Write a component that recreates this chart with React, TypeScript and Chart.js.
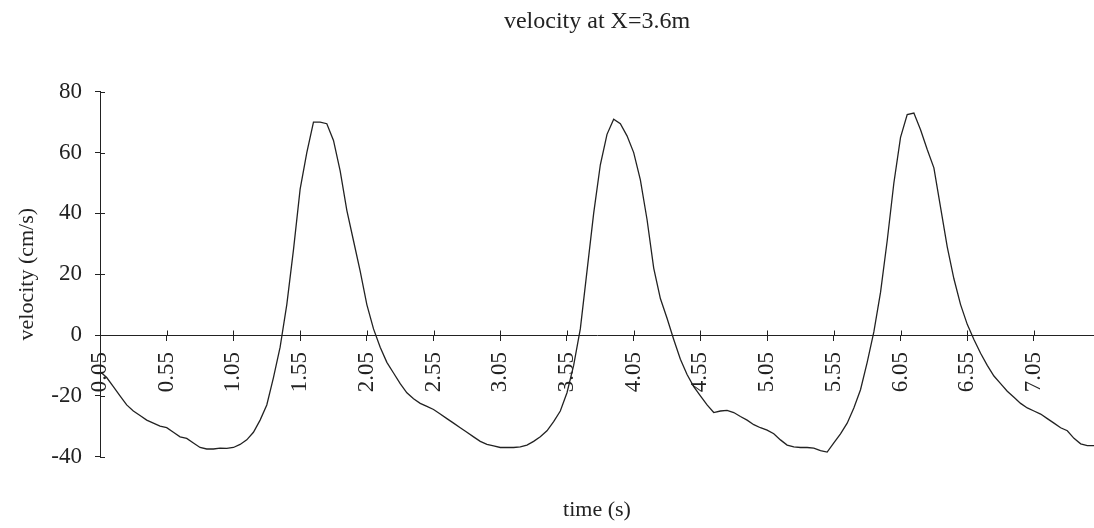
import React, { useEffect, useRef } from 'react';
import { Chart, registerables } from 'chart.js';

Chart.register(...registerables);

const TITLE = 'velocity at X=3.6m';
const X_TITLE = 'time (s)';
const Y_TITLE = 'velocity (cm/s)';

const TIME_LABELS = [
  '0.05', '0.10', '0.15', '0.20', '0.25', '0.30', '0.35', '0.40', '0.45', '0.50',
  '0.55', '0.60', '0.65', '0.70', '0.75', '0.80', '0.85', '0.90', '0.95', '1.00',
  '1.05', '1.10', '1.15', '1.20', '1.25', '1.30', '1.35', '1.40', '1.45', '1.50',
  '1.55', '1.60', '1.65', '1.70', '1.75', '1.80', '1.85', '1.90', '1.95', '2.00',
  '2.05', '2.10', '2.15', '2.20', '2.25', '2.30', '2.35', '2.40', '2.45', '2.50',
  '2.55', '2.60', '2.65', '2.70', '2.75', '2.80', '2.85', '2.90', '2.95', '3.00',
  '3.05', '3.10', '3.15', '3.20', '3.25', '3.30', '3.35', '3.40', '3.45', '3.50',
  '3.55', '3.60', '3.65', '3.70', '3.75', '3.80', '3.85', '3.90', '3.95', '4.00',
  '4.05', '4.10', '4.15', '4.20', '4.25', '4.30', '4.35', '4.40', '4.45', '4.50',
  '4.55', '4.60', '4.65', '4.70', '4.75', '4.80', '4.85', '4.90', '4.95', '5.00',
  '5.05', '5.10', '5.15', '5.20', '5.25', '5.30', '5.35', '5.40', '5.45', '5.50',
  '5.55', '5.60', '5.65', '5.70', '5.75', '5.80', '5.85', '5.90', '5.95', '6.00',
  '6.05', '6.10', '6.15', '6.20', '6.25', '6.30', '6.35', '6.40', '6.45', '6.50',
  '6.55', '6.60', '6.65', '6.70', '6.75', '6.80', '6.85', '6.90', '6.95', '7.00',
  '7.05', '7.10', '7.15', '7.20', '7.25', '7.30', '7.35', '7.40', '7.45', '7.50',
];

const VELOCITY = [
  -12, -14, -17, -20, -23, -25, -26.5, -28, -29, -30,
  -30.5, -32, -33.5, -34, -35.5, -37, -37.5, -37.5, -37.2, -37.3,
  -37, -36, -34.5, -32, -28, -23, -14, -4, 10, 28,
  48, 60, 70, 70, 69.5, 64, 54, 41, 31, 21,
  10, 2, -4, -9, -12.5, -16, -19, -21, -22.5, -23.5,
  -24.5, -26, -27.5, -29, -30.5, -32, -33.5, -35, -36, -36.5,
  -37, -37, -37, -36.8, -36.2, -35, -33.5, -31.5, -28.5, -25,
  -19, -10, 2, 21, 40, 56, 66, 71, 69.5, 65.5,
  60, 51, 38, 22, 12, 5.5, -1.5, -8, -13, -17,
  -20, -23, -25.5, -25, -24.8, -25.5, -26.8, -28, -29.5, -30.5,
  -31.3, -32.5, -34.5, -36.2, -36.8, -37, -37, -37.2, -38, -38.5,
  -35.5, -32.5, -29, -24, -18, -9, 1, 14, 31, 50,
  65, 72.5, 73, 67.5, 61, 55, 42, 29, 18.5, 10,
  3.5, -1.5, -6, -10, -13.5, -16, -18.5, -20.5, -22.5, -24,
  -25, -26, -27.5, -29, -30.5, -31.5, -34, -35.8, -36.4, -36.4,
];

const Y_MIN = -40;
const Y_MAX = 80;
const Y_STEP = 20;
const X_LABEL_EVERY = 10;

const FONT = 'Liberation Serif, Times New Roman, serif';
const INK = '#222';

const crossTicks = {
  id: 'crossTicks',
  afterDraw(chart: any) {
    const { ctx } = chart;
    const xs = chart.scales.x;
    const ys = chart.scales.y;
    const y0 = Math.round(ys.getPixelForValue(0)) + 0.5;
    ctx.save();
    ctx.strokeStyle = INK;
    ctx.lineWidth = 1;
    ctx.beginPath();
    xs.ticks.forEach((_: any, i: number) => {
      const px = Math.round(xs.getPixelForTick(i)) + 0.5;
      ctx.moveTo(px, y0 - 5);
      ctx.lineTo(px, y0);
    });
    ys.ticks.forEach((_: any, i: number) => {
      const py = Math.round(ys.getPixelForTick(i)) + 0.5;
      ctx.moveTo(ys.right, py);
      ctx.lineTo(ys.right + 5, py);
    });
    ctx.stroke();
    ctx.restore();
  },
};

export default function App() {
  const ref = useRef<HTMLCanvasElement | null>(null);

  useEffect(() => {
    if (!ref.current) return;
    const chart = new Chart(ref.current, {
      type: 'line',
      data: {
        labels: TIME_LABELS,
        datasets: [
          {
            data: VELOCITY,
            borderColor: INK,
            borderWidth: 1.3,
            pointRadius: 0,
            tension: 0,
            fill: false,
          },
        ],
      },
      options: {
        animation: false,
        responsive: false,
        devicePixelRatio: 1,
        layout: { padding: 0 },
        plugins: {
          legend: { display: false },
          tooltip: { enabled: false },
          title: {
            display: true,
            text: TITLE,
            fullSize: false,
            color: INK,
            font: { family: FONT, size: 24, weight: 'normal' },
            padding: { top: 7, bottom: 56 },
          },
          subtitle: {
            display: true,
            text: X_TITLE,
            position: 'bottom',
            fullSize: false,
            color: INK,
            font: { family: FONT, size: 22, weight: 'normal' },
            padding: { top: 40, bottom: 5 },
          },
        },
        scales: {
          x: {
            type: 'category',
            position: { y: 0 },
            offset: false,
            grid: { display: true, drawOnChartArea: false, drawTicks: true, tickLength: 5, color: INK },
            border: { display: true, color: INK, width: 1 },
            afterBuildTicks: (scale: any) => {
              scale.ticks = scale.ticks.filter((_: any, i: number) => i % X_LABEL_EVERY === 0);
            },
            ticks: {
              autoSkip: false,
              minRotation: 90,
              maxRotation: 90,
              padding: 12,
              color: INK,
              font: { family: FONT, size: 23 },
            },
          },
          y: {
            type: 'linear',
            position: 'left',
            min: Y_MIN,
            max: Y_MAX,
            afterFit: (scale: any) => {
              scale.width = 100;
            },
            grid: { display: true, drawOnChartArea: false, drawTicks: true, tickLength: 5, color: INK },
            border: { display: true, color: INK, width: 1 },
            ticks: {
              stepSize: Y_STEP,
              padding: 13,
              color: INK,
              font: { family: FONT, size: 23 },
            },
            title: {
              display: true,
              text: Y_TITLE,
              color: INK,
              font: { family: FONT, size: 22 },
              padding: { top: 14, bottom: 0 },
            },
          },
        },
      },
      plugins: [crossTicks],
    } as any);
    return () => chart.destroy();
  }, []);

  return (
    <div style={{ position: 'absolute', left: 0, top: 0, width: 1094, height: 528, background: '#fff' }}>
      <canvas ref={ref} width={1094} height={528} style={{ display: 'block' }} />
    </div>
  );
}
